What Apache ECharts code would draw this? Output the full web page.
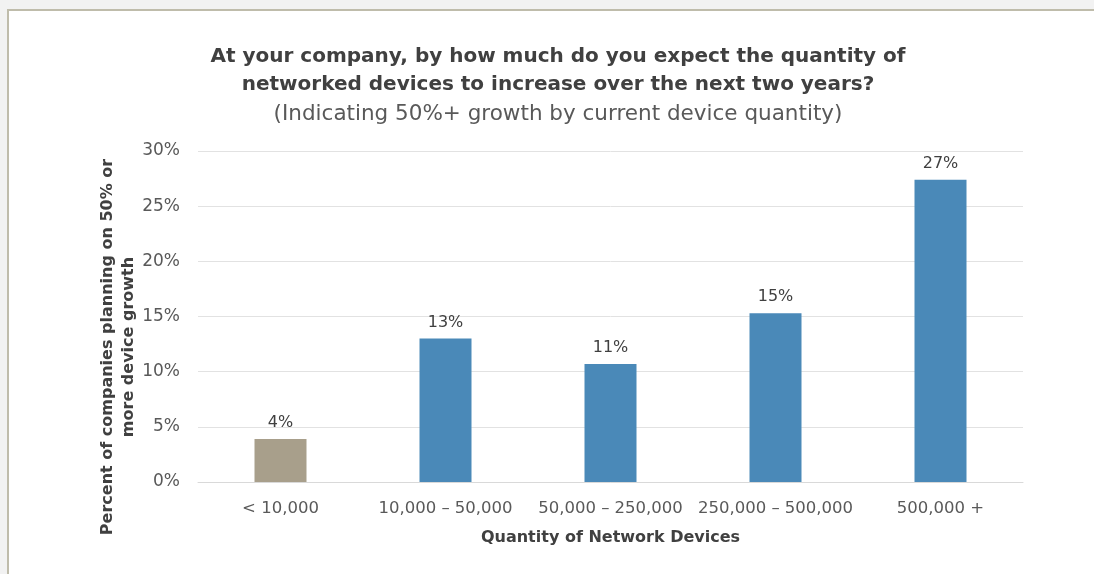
<!DOCTYPE html>
<html>
<head>
<meta charset="utf-8">
<script src="https://cdn.jsdelivr.net/npm/echarts@6/dist/echarts.min.js"></script>
<style>
html,body{margin:0;padding:0;background:#fff;}
#chart{width:1094px;height:574px;}
</style>
</head>
<body>
<div id="chart"></div>
<script>
const categories = ['< 10,000', '10,000 – 50,000', '50,000 – 250,000', '250,000 – 500,000', '500,000 +'];
const values = [3.9, 13.0, 10.7, 15.3, 27.4];
const barColors = ['#a89f8b', '#4a89b8', '#4a89b8', '#4a89b8', '#4a89b8'];
const yTicks = [0, 5, 10, 15, 20, 25, 30];

const FONT = '"DejaVu Sans"';
const chart = echarts.init(document.getElementById('chart'), null, {renderer: 'canvas'});
chart.setOption({
  animation: false,
  backgroundColor: '#ffffff',
  graphic: [
    {type: 'rect', z: -10, shape: {x: 0, y: 0, width: 1094, height: 10}, style: {fill: '#f2f2f2'}},
    {type: 'rect', z: -10, shape: {x: 0, y: 0, width: 7, height: 574}, style: {fill: '#f2f2f2'}},
    {type: 'line', z: -5, shape: {x1: 7, y1: 10, x2: 1094, y2: 10}, style: {stroke: '#bfbcab', lineWidth: 2}},
    {type: 'line', z: -5, shape: {x1: 8, y1: 10, x2: 8, y2: 574}, style: {stroke: '#bfbcab', lineWidth: 2}},
    {type: 'text', x: 558, y: 57, style: {text: 'At your company, by how much do you expect the quantity of', font: 'bold 20px ' + FONT, fill: '#404040', textAlign: 'center', textVerticalAlign: 'middle'}},
    {type: 'text', x: 558, y: 85, style: {text: 'networked devices to increase over the next two years?', font: 'bold 20px ' + FONT, fill: '#404040', textAlign: 'center', textVerticalAlign: 'middle'}},
    {type: 'text', x: 558, y: 114, style: {text: '(Indicating 50%+ growth by current device quantity)', font: '21.5px ' + FONT, fill: '#595959', textAlign: 'center', textVerticalAlign: 'middle'}},
    {type: 'text', x: 118, y: 347, rotation: Math.PI / 2, style: {text: 'Percent of companies planning on 50% or\nmore device growth', font: 'bold 16px ' + FONT, fill: '#404040', textAlign: 'center', textVerticalAlign: 'middle', lineHeight: 21}}
  ],
  grid: {left: 198, right: 71, top: 151, bottom: 92, containLabel: false},
  xAxis: {
    type: 'category',
    data: categories,
    axisLine: {lineStyle: {color: '#d9d9d9', width: 1}},
    axisTick: {show: false},
    axisLabel: {color: '#595959', fontFamily: FONT, fontSize: 16.5, margin: 18, interval: 0},
    name: 'Quantity of Network Devices',
    nameLocation: 'middle',
    nameGap: 48,
    nameTextStyle: {color: '#404040', fontFamily: FONT, fontWeight: 'bold', fontSize: 16}
  },
  yAxis: {
    type: 'value',
    min: 0, max: 30, interval: 5,
    axisLine: {show: false},
    axisTick: {show: false},
    splitLine: {lineStyle: {color: '#e2e2e2', width: 1}},
    axisLabel: {color: '#595959', fontFamily: FONT, fontSize: 17, margin: 18,
      formatter: v => yTicks.includes(v) ? v + '%' : ''}
  },
  series: [{
    type: 'bar',
    data: values.map((v, i) => ({value: v, itemStyle: {color: barColors[i]}})),
    barWidth: 52,
    label: {show: true, position: 'top', distance: 8, color: '#404040', fontFamily: FONT, fontSize: 16,
      formatter: p => Math.round(p.value) + '%'}
  }]
});
</script>
</body>
</html>
